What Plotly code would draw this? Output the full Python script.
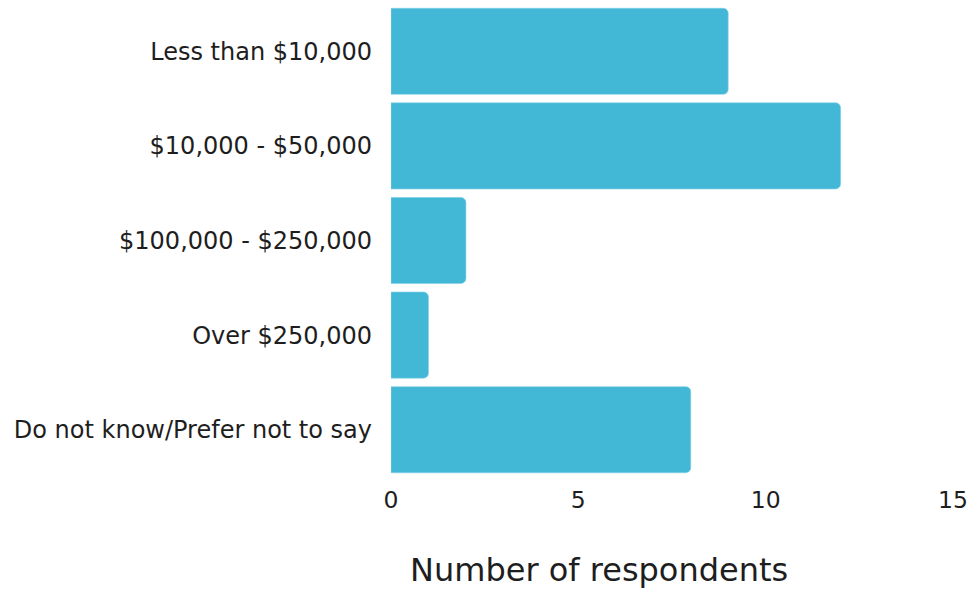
import plotly.graph_objects as go

categories = ["Less than $10,000", "$10,000 - $50,000", "$100,000 - $250,000",
              "Over $250,000", "Do not know/Prefer not to say"]
values = [9, 12, 2, 1, 8]
x_ticks = [0, 5, 10, 15]
x_title = "Number of respondents"

fig = go.Figure(go.Bar(
    x=values, y=categories, orientation="h",
    marker=dict(color="#42B7D6", line=dict(color="#7FD0E6", width=0.6)),
    hoverinfo="x+y",
))
fig.update_layout(
    width=972, height=590,
    margin=dict(l=391, r=17, t=4, b=113),
    paper_bgcolor="white", plot_bgcolor="white",
    font=dict(family="DejaVu Sans", color="#1e1e1e", size=24),
    bargap=0.09, barcornerradius=5,
    showlegend=False,
)
fig.update_yaxes(autorange="reversed", showgrid=False, showline=False, zeroline=False,
                 ticks="", ticklabelstandoff=18, tickfont=dict(size=24))
fig.update_xaxes(range=[0, 15], tickvals=x_ticks, showgrid=False, zeroline=False,
                 showline=False, ticks="", ticklabelstandoff=6, tickfont=dict(size=23.5))
fig.add_annotation(text=x_title, xref="paper", yref="paper",
                   x=(600 - 391) / 564, y=-(570 - 477) / 473,
                   xanchor="center", yanchor="middle", showarrow=False,
                   font=dict(size=32))
fig.write_html("out.html")
